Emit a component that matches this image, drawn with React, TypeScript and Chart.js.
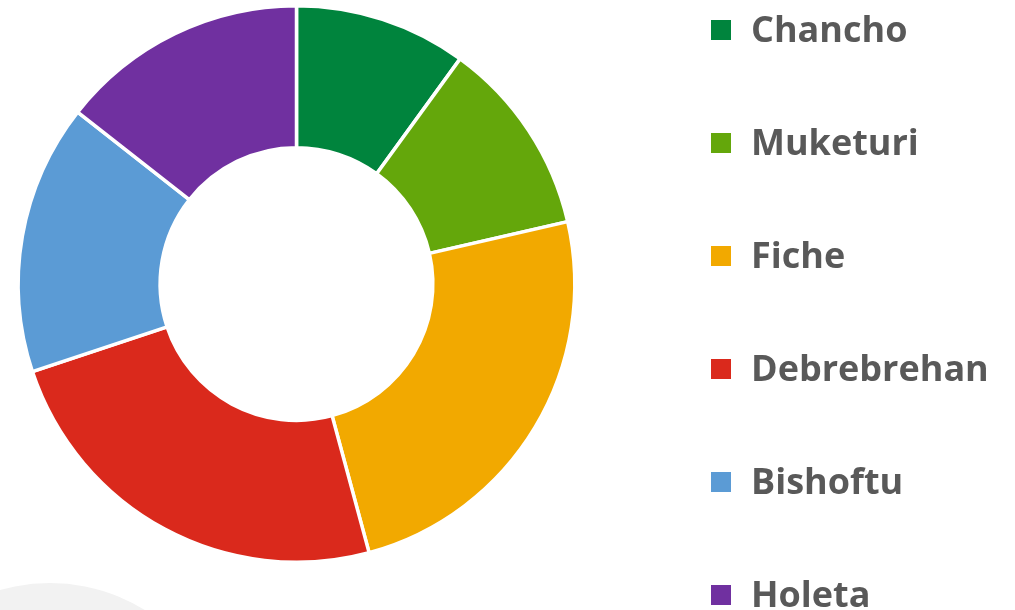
import React, { useEffect, useRef } from "react";
import { Chart, registerables } from "chart.js";

Chart.register(...registerables);

const categories = ["Chancho", "Muketuri", "Fiche", "Debrebrehan", "Bishoftu", "Holeta"];
const shares = [10.0, 11.4, 24.4, 24.1, 15.7, 14.4];
const colors = ["#00843D", "#64A70B", "#F2A900", "#DA291C", "#5B9BD5", "#7030A0"];

const W = 1015;
const H = 610;

const bgCircle = {
  id: "bgCircle",
  beforeDraw(chart: any) {
    const ctx = chart.ctx;
    ctx.save();
    ctx.fillStyle = "#F2F2F2";
    ctx.beginPath();
    ctx.arc(50, 763, 180, 0, Math.PI * 2);
    ctx.fill();
    ctx.restore();
  },
};

export default function App() {
  const ref = useRef<HTMLCanvasElement>(null);

  useEffect(() => {
    if (!ref.current) return;
    const chart = new Chart(ref.current, {
      type: "doughnut",
      data: {
        labels: categories,
        datasets: [
          {
            data: shares,
            backgroundColor: colors,
            borderColor: "#FFFFFF",
            borderWidth: 3.5,
            hoverOffset: 0,
          },
        ],
      },
      options: {
        responsive: false,
        animation: false,
        radius: 278.3,
        cutout: 138.3,
        layout: { padding: { left: 0, right: 422, top: 0, bottom: 42 } },
        plugins: {
          legend: { display: false },
          tooltip: { enabled: false },
        },
      } as any,
      plugins: [bgCircle],
    });
    return () => chart.destroy();
  }, []);

  return (
    <div style={{ position: "absolute", left: 0, top: 0, width: W, height: H, overflow: "hidden", background: "#FFFFFF" }}>
      <canvas ref={ref} width={W} height={H} style={{ position: "absolute", left: 0, top: 0, width: W, height: H }} />
      {categories.map((c, i) => {
        const cy = 29.5 + 113 * i;
        return (
          <React.Fragment key={c}>
            <div
              style={{
                position: "absolute",
                left: 711,
                top: cy - 10,
                width: 20,
                height: 20,
                background: colors[i],
              }}
            />
            <div
              style={{
                position: "absolute",
                left: 751,
                top: cy - 31,
                height: 60,
                lineHeight: "60px",
                fontFamily: "'Open Sans', sans-serif",
                fontWeight: 700,
                fontSize: 36,
                color: "#595959",
                whiteSpace: "nowrap",
              }}
            >
              {c}
            </div>
          </React.Fragment>
        );
      })}
    </div>
  );
}
